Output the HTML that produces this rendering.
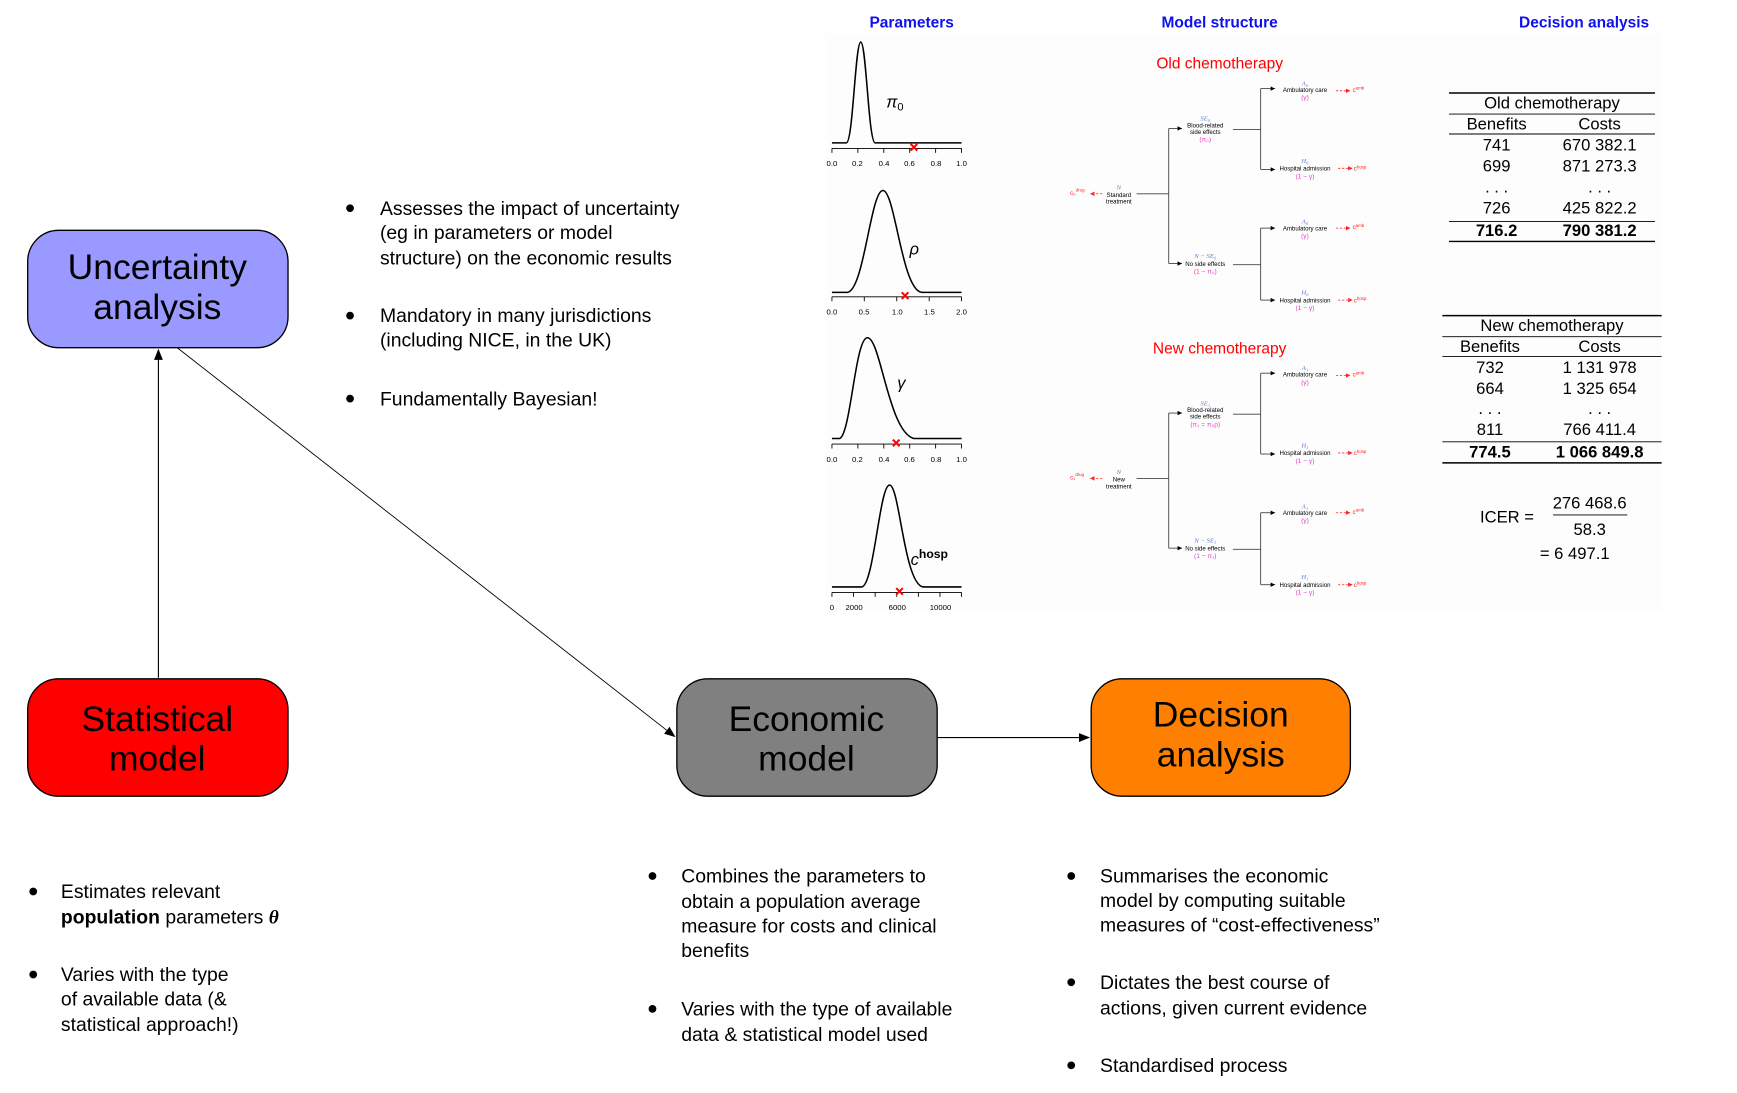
<!DOCTYPE html>
<html><head><meta charset="utf-8"><style>
html,body{margin:0;padding:0;background:#fff;}
svg{display:block;}
text{font-family:"Liberation Sans","DejaVu Sans",sans-serif;}
.b{font-size:17.5px;fill:#000;}
.t{font-size:5.5px;fill:#000;text-anchor:middle;}
.bl{font-size:6px;fill:#5b7fc0;text-anchor:middle;font-style:italic;font-family:"Liberation Serif",serif;}
.mg{font-size:6px;fill:#e040c0;text-anchor:middle;}
.rd{font-size:5.5px;fill:#ff2020;}
.ax{font-size:7px;fill:#000;text-anchor:middle;}
.tb{font-size:15px;fill:#000;text-anchor:middle;}
.tbb{font-size:15px;fill:#000;text-anchor:middle;font-weight:bold;}
</style></head><body>
<svg width="1737" height="1093" viewBox="0 0 1568 987" preserveAspectRatio="none" xmlns="http://www.w3.org/2000/svg">
<defs>
<marker id="ah" markerWidth="10" markerHeight="8" refX="9" refY="4" orient="auto" markerUnits="userSpaceOnUse"><path d="M0,0 L10,4 L0,8 z" fill="#000"/></marker>
<marker id="sa" markerWidth="4" markerHeight="4" refX="4" refY="2" orient="auto" markerUnits="userSpaceOnUse"><path d="M0,0 L4,2 L0,4 z" fill="#000"/></marker>
<marker id="ra" markerWidth="4" markerHeight="4" refX="4" refY="2" orient="auto" markerUnits="userSpaceOnUse"><path d="M0,0 L4,2 L0,4 z" fill="#f22"/></marker>
</defs>
<rect x="745" y="30" width="755" height="522" fill="#fdfdfd"/>

<text x="823" y="25" font-size="14" font-weight="bold" fill="#1010ee" text-anchor="middle">Parameters</text>
<text x="1101" y="25" font-size="14" font-weight="bold" fill="#1010ee" text-anchor="middle">Model structure</text>
<text x="1430" y="25" font-size="14" font-weight="bold" fill="#1010ee" text-anchor="middle">Decision analysis</text>

<rect x="25" y="208" width="235" height="106" rx="28" fill="#9999ff" stroke="#000" stroke-width="1.2"/>
<text x="142" y="252" font-size="32" text-anchor="middle">Uncertainty</text>
<text x="142" y="288" font-size="32" text-anchor="middle">analysis</text>
<rect x="25" y="613" width="235" height="106" rx="28" fill="#ff0000" stroke="#000" stroke-width="1.2"/>
<text x="142" y="660" font-size="32" text-anchor="middle">Statistical</text>
<text x="142" y="696" font-size="32" text-anchor="middle">model</text>
<rect x="611" y="613" width="235" height="106" rx="28" fill="#808080" stroke="#000" stroke-width="1.2"/>
<text x="728" y="660" font-size="32" text-anchor="middle">Economic</text>
<text x="728" y="696" font-size="32" text-anchor="middle">model</text>
<rect x="985" y="613" width="234" height="106" rx="28" fill="#ff8000" stroke="#000" stroke-width="1.2"/>
<text x="1102" y="656" font-size="32" text-anchor="middle">Decision</text>
<text x="1102" y="692" font-size="32" text-anchor="middle">analysis</text>

<line x1="143" y1="612" x2="143" y2="316" stroke="#000" stroke-width="1" marker-end="url(#ah)"/>
<line x1="160" y1="314" x2="609" y2="665" stroke="#000" stroke-width="0.8" marker-end="url(#ah)"/>
<line x1="846" y1="666" x2="983" y2="666" stroke="#000" stroke-width="1" marker-end="url(#ah)"/>

<g class="b">
<circle cx="316" cy="188" r="3.5"/><text x="343" y="194">Assesses the impact of uncertainty</text>
<text x="343" y="216">(eg in parameters or model</text>
<text x="343" y="239">structure) on the economic results</text>
<circle cx="316" cy="285" r="3.5"/><text x="343" y="291">Mandatory in many jurisdictions</text>
<text x="343" y="313">(including NICE, in the UK)</text>
<circle cx="316" cy="360" r="3.5"/><text x="343" y="366">Fundamentally Bayesian!</text>

<circle cx="30" cy="805" r="3.5"/><text x="55" y="811">Estimates relevant</text>
<text x="55" y="834"><tspan font-weight="bold">population</tspan> parameters <tspan font-weight="bold" font-style="italic" font-family="Liberation Serif">θ</tspan></text>
<circle cx="30" cy="880" r="3.5"/><text x="55" y="886">Varies with the type</text>
<text x="55" y="908">of available data (&amp;</text>
<text x="55" y="931">statistical approach!)</text>

<circle cx="589" cy="791" r="3.5"/><text x="615" y="797">Combines the parameters to</text>
<text x="615" y="820">obtain a population average</text>
<text x="615" y="842">measure for costs and clinical</text>
<text x="615" y="864">benefits</text>
<circle cx="589" cy="911" r="3.5"/><text x="615" y="917">Varies with the type of available</text>
<text x="615" y="940">data &amp; statistical model used</text>

<circle cx="967" cy="791" r="3.5"/><text x="993" y="797">Summarises the economic</text>
<text x="993" y="819">model by computing suitable</text>
<text x="993" y="841">measures of “cost-effectiveness”</text>
<circle cx="967" cy="887" r="3.5"/><text x="993" y="893">Dictates the best course of</text>
<text x="993" y="916">actions, given current evidence</text>
<circle cx="967" cy="962" r="3.5"/><text x="993" y="968">Standardised process</text>
</g>

<g fill="none" stroke="#000" stroke-width="1.4">
<path d="M751,129 L764,129 C770,129 772,38 777,38 C782,38 784,129 790,129 L868,129"/>
<path d="M751,264 L765,264 C780,262 786,172 797,172 C808,172 814,262 832,264 L868,264"/>
<path d="M751,396 L758,396 C768,392 772,305 783,305 C795,305 802,390 825,396 L868,396"/>
<path d="M751,530 L778,530 C789,528 794,438 803,438 C812,438 816,526 833,530 L868,530"/>
</g>
<g stroke="#000" stroke-width="0.8">
<line x1="751" y1="134" x2="868" y2="134"/><line x1="751" y1="268" x2="868" y2="268"/><line x1="751" y1="401" x2="868" y2="401"/><line x1="751" y1="535" x2="868" y2="535"/>
<path d="M751,134v4M774.4,134v4M797.8,134v4M821.2,134v4M844.6,134v4M868,134v4"/>
<path d="M751,268v4M780.2,268v4M809.5,268v4M838.8,268v4M868,268v4"/>
<path d="M751,401v4M774.4,401v4M797.8,401v4M821.2,401v4M844.6,401v4M868,401v4"/>
<path d="M751,535v4M770.5,535v4M790,535v4M809.5,535v4M829,535v4M848.5,535v4M868,535v4"/>
</g>
<g class="ax">
<text x="751" y="150">0.0</text><text x="774" y="150">0.2</text><text x="798" y="150">0.4</text><text x="821" y="150">0.6</text><text x="845" y="150">0.8</text><text x="868" y="150">1.0</text>
<text x="751" y="284">0.0</text><text x="780" y="284">0.5</text><text x="810" y="284">1.0</text><text x="839" y="284">1.5</text><text x="868" y="284">2.0</text>
<text x="751" y="417">0.0</text><text x="774" y="417">0.2</text><text x="798" y="417">0.4</text><text x="821" y="417">0.6</text><text x="845" y="417">0.8</text><text x="868" y="417">1.0</text>
<text x="751" y="551">0</text><text x="771" y="551">2000</text><text x="810" y="551">6000</text><text x="849" y="551">10000</text>
</g>
<g font-family="Liberation Serif" font-size="15" font-style="italic">
<text x="800" y="97">π<tspan font-size="10" dy="3" font-style="normal">0</tspan></text>
<text x="821" y="230">ρ</text>
<text x="810" y="351">γ</text>
<text x="822" y="510">c<tspan font-size="11" dy="-6" font-style="normal" font-weight="bold">hosp</tspan></text>
</g>
<g stroke="#f00" stroke-width="1.8">
<path d="M822,130l6,6M828,130l-6,6"/><path d="M814,264l6,6M820,264l-6,6"/><path d="M806,397l6,6M812,397l-6,6"/><path d="M809,531l6,6M815,531l-6,6"/>
</g>

<text x="1101" y="62" font-size="14" fill="#f00" text-anchor="middle">Old chemotherapy</text>
<text x="1101" y="319" font-size="14" fill="#f00" text-anchor="middle">New chemotherapy</text>

<g id="old">
<g stroke="#444" stroke-width="0.8" fill="none">
<path d="M1026,175H1055V116M1055,175V238"/>
<line x1="1055" y1="116" x2="1067" y2="116" marker-end="url(#sa)"/>
<line x1="1055" y1="238" x2="1067" y2="238" marker-end="url(#sa)"/>
<path d="M1113,117H1138V80M1138,117V153M1113,239H1138V206M1138,239V271"/>
<line x1="1138" y1="80" x2="1151" y2="80" marker-end="url(#sa)"/>
<line x1="1138" y1="153" x2="1151" y2="153" marker-end="url(#sa)"/>
<line x1="1138" y1="206" x2="1151" y2="206" marker-end="url(#sa)"/>
<line x1="1138" y1="271" x2="1151" y2="271" marker-end="url(#sa)"/>
</g>
<g stroke="#f22" stroke-width="0.7" stroke-dasharray="2,1.5" fill="none">
<line x1="995" y1="175" x2="984" y2="175" marker-end="url(#ra)"/>
<line x1="1206" y1="82" x2="1219" y2="82" marker-end="url(#ra)"/>
<line x1="1208" y1="152" x2="1221" y2="152" marker-end="url(#ra)"/>
<line x1="1206" y1="206" x2="1219" y2="206" marker-end="url(#ra)"/>
<line x1="1208" y1="271" x2="1221" y2="271" marker-end="url(#ra)"/>
</g>
<text class="rd" x="966" y="176">c₀<tspan font-size="4" dy="-3">drug</tspan></text>
<text class="bl" x="1010" y="171">N</text><text class="t" x="1010" y="178">Standard</text><text class="t" x="1010" y="184">treatment</text>
<text class="bl" x="1088" y="109">SE₀</text><text class="t" x="1088" y="115">Blood-related</text><text class="t" x="1088" y="121">side effects</text><text class="mg" x="1088" y="128">(π₀)</text>
<text class="bl" x="1088" y="233">N − SE₀</text><text class="t" x="1088" y="240">No side effects</text><text class="mg" x="1088" y="247">(1 − π₀)</text>
<text class="bl" x="1178" y="77">A₀</text><text class="t" x="1178" y="83">Ambulatory care</text><text class="mg" x="1178" y="90">(γ)</text>
<text class="bl" x="1178" y="147">H₀</text><text class="t" x="1178" y="154">Hospital admission</text><text class="mg" x="1178" y="161">(1 − γ)</text>
<text class="bl" x="1178" y="202">A₀</text><text class="t" x="1178" y="208">Ambulatory care</text><text class="mg" x="1178" y="215">(γ)</text>
<text class="bl" x="1178" y="266">H₀</text><text class="t" x="1178" y="273">Hospital admission</text><text class="mg" x="1178" y="280">(1 − γ)</text>
<text class="rd" x="1221" y="83">c<tspan font-size="4" dy="-2">amb</tspan></text>
<text class="rd" x="1222" y="154">c<tspan font-size="4" dy="-2">hosp</tspan></text>
<text class="rd" x="1221" y="207">c<tspan font-size="4" dy="-2">amb</tspan></text>
<text class="rd" x="1222" y="273">c<tspan font-size="4" dy="-2">hosp</tspan></text>
</g>

<g transform="translate(0,257)">
<g stroke="#444" stroke-width="0.8" fill="none">
<path d="M1026,175H1055V116M1055,175V238"/>
<line x1="1055" y1="116" x2="1067" y2="116" marker-end="url(#sa)"/>
<line x1="1055" y1="238" x2="1067" y2="238" marker-end="url(#sa)"/>
<path d="M1113,117H1138V80M1138,117V153M1113,239H1138V206M1138,239V271"/>
<line x1="1138" y1="80" x2="1151" y2="80" marker-end="url(#sa)"/>
<line x1="1138" y1="153" x2="1151" y2="153" marker-end="url(#sa)"/>
<line x1="1138" y1="206" x2="1151" y2="206" marker-end="url(#sa)"/>
<line x1="1138" y1="271" x2="1151" y2="271" marker-end="url(#sa)"/>
</g>
<g stroke="#f22" stroke-width="0.7" stroke-dasharray="2,1.5" fill="none">
<line x1="995" y1="175" x2="984" y2="175" marker-end="url(#ra)"/>
<line x1="1206" y1="82" x2="1219" y2="82" marker-end="url(#ra)"/>
<line x1="1208" y1="152" x2="1221" y2="152" marker-end="url(#ra)"/>
<line x1="1206" y1="206" x2="1219" y2="206" marker-end="url(#ra)"/>
<line x1="1208" y1="271" x2="1221" y2="271" marker-end="url(#ra)"/>
</g>
<text class="rd" x="966" y="176">c₁<tspan font-size="4" dy="-3">drug</tspan></text>
<text class="bl" x="1010" y="171">N</text><text class="t" x="1010" y="178">New</text><text class="t" x="1010" y="184">treatment</text>
<text class="bl" x="1088" y="109">SE₁</text><text class="t" x="1088" y="115">Blood-related</text><text class="t" x="1088" y="121">side effects</text><text class="mg" x="1088" y="128">(π₁ = π₀ρ)</text>
<text class="bl" x="1088" y="233">N − SE₁</text><text class="t" x="1088" y="240">No side effects</text><text class="mg" x="1088" y="247">(1 − π₁)</text>
<text class="bl" x="1178" y="77">A₁</text><text class="t" x="1178" y="83">Ambulatory care</text><text class="mg" x="1178" y="90">(γ)</text>
<text class="bl" x="1178" y="147">H₁</text><text class="t" x="1178" y="154">Hospital admission</text><text class="mg" x="1178" y="161">(1 − γ)</text>
<text class="bl" x="1178" y="202">A₁</text><text class="t" x="1178" y="208">Ambulatory care</text><text class="mg" x="1178" y="215">(γ)</text>
<text class="bl" x="1178" y="266">H₁</text><text class="t" x="1178" y="273">Hospital admission</text><text class="mg" x="1178" y="280">(1 − γ)</text>
<text class="rd" x="1221" y="83">c<tspan font-size="4" dy="-2">amb</tspan></text>
<text class="rd" x="1222" y="154">c<tspan font-size="4" dy="-2">hosp</tspan></text>
<text class="rd" x="1221" y="207">c<tspan font-size="4" dy="-2">amb</tspan></text>
<text class="rd" x="1222" y="273">c<tspan font-size="4" dy="-2">hosp</tspan></text>
</g>

<g stroke="#000">
<line x1="1308" y1="84" x2="1494" y2="84" stroke-width="1.3"/>
<line x1="1308" y1="103" x2="1494" y2="103" stroke-width="0.8"/>
<line x1="1308" y1="121" x2="1494" y2="121" stroke-width="0.8"/>
<line x1="1308" y1="200" x2="1494" y2="200" stroke-width="0.8"/>
<line x1="1308" y1="218" x2="1494" y2="218" stroke-width="1.3"/>
<line x1="1302" y1="285" x2="1500" y2="285" stroke-width="1.3"/>
<line x1="1302" y1="304" x2="1500" y2="304" stroke-width="0.8"/>
<line x1="1302" y1="322" x2="1500" y2="322" stroke-width="0.8"/>
<line x1="1302" y1="399" x2="1500" y2="399" stroke-width="0.8"/>
<line x1="1302" y1="418" x2="1500" y2="418" stroke-width="1.3"/>
<line x1="1402" y1="465" x2="1469" y2="465" stroke-width="0.8"/>
</g>
<text class="tb" x="1401" y="98">Old chemotherapy</text>
<text class="tb" x="1351" y="117">Benefits</text><text class="tb" x="1444" y="117">Costs</text>
<text class="tb" x="1351" y="136">741</text><text class="tb" x="1444" y="136">670 382.1</text>
<text class="tb" x="1351" y="155">699</text><text class="tb" x="1444" y="155">871 273.3</text>
<text class="tb" x="1351" y="174">. . .</text><text class="tb" x="1444" y="174">. . .</text>
<text class="tb" x="1351" y="193">726</text><text class="tb" x="1444" y="193">425 822.2</text>
<text class="tbb" x="1351" y="213">716.2</text><text class="tbb" x="1444" y="213">790 381.2</text>

<text class="tb" x="1401" y="299">New chemotherapy</text>
<text class="tb" x="1345" y="318">Benefits</text><text class="tb" x="1444" y="318">Costs</text>
<text class="tb" x="1345" y="337">732</text><text class="tb" x="1444" y="337">1 131 978</text>
<text class="tb" x="1345" y="356">664</text><text class="tb" x="1444" y="356">1 325 654</text>
<text class="tb" x="1345" y="374">. . .</text><text class="tb" x="1444" y="374">. . .</text>
<text class="tb" x="1345" y="393">811</text><text class="tb" x="1444" y="393">766 411.4</text>
<text class="tbb" x="1345" y="413">774.5</text><text class="tbb" x="1444" y="413">1 066 849.8</text>

<text x="1336" y="472" font-size="15">ICER =</text>
<text class="tb" x="1435" y="459">276 468.6</text>
<text class="tb" x="1435" y="483">58.3</text>
<text x="1390" y="505" font-size="15">= 6 497.1</text>
</svg>
</body></html>
